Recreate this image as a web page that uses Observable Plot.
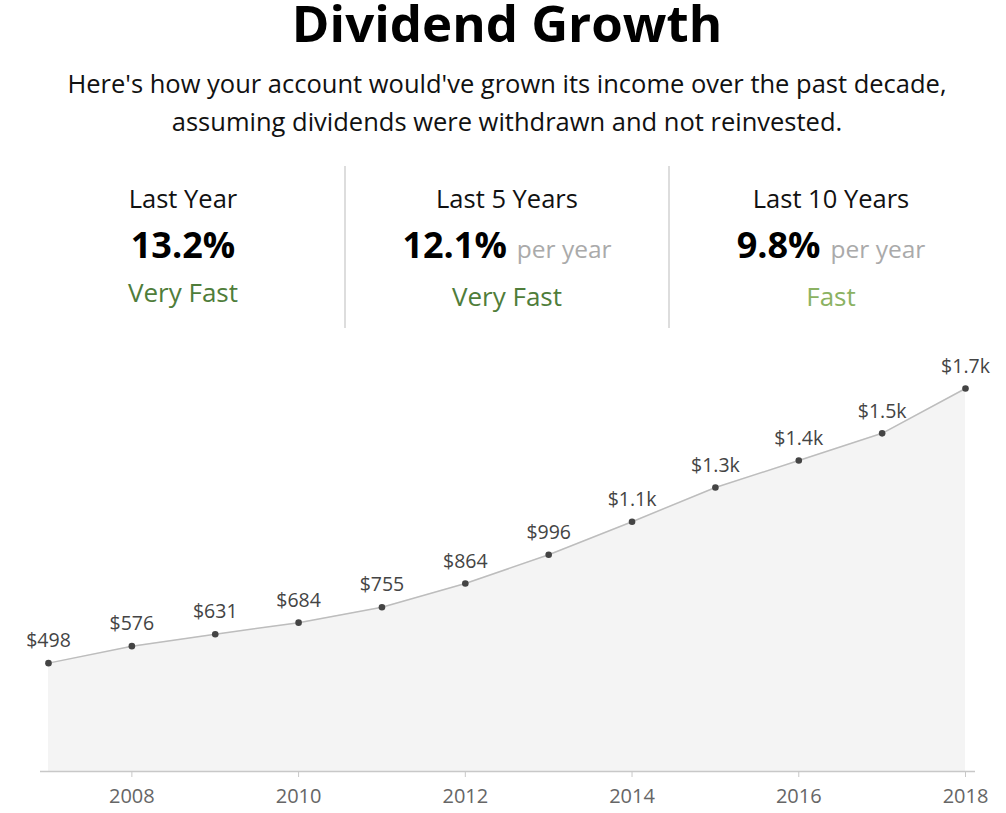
<!DOCTYPE html>
<html>
<head>
<meta charset="utf-8">
<script src="https://cdn.jsdelivr.net/npm/d3@7"></script>
<script src="https://cdn.jsdelivr.net/npm/@observablehq/plot@0.6"></script>
<style>
  html, body { margin: 0; padding: 0; background: #fff; }
  body { width: 1006px; height: 813px; position: relative; overflow: hidden; font-family: "Open Sans", sans-serif; color: #111; }
  .abs { position: absolute; white-space: nowrap; text-align: center; }
  #title { left: 0; width: 1014px; top: 0px; height: 45px; font-size: 51px; line-height: 45px; font-weight: 700; color: #000; }
  #subtitle { left: 0; width: 1014px; top: 64px; font-size: 25.5px; line-height: 38px; color: #111; }
  .col { position: absolute; top: 0; width: 324px; height: 813px; }
  .period { position: absolute; left: 0; width: 100%; text-align: center; top: 180.5px; font-size: 25.5px; line-height: normal; color: #111; }
  .value { position: absolute; left: 0; width: 100%; text-align: center; top: 220px; font-size: 36px; line-height: normal; font-weight: 700; color: #000; }
  .value .suffix { font-size: 24.5px; font-weight: 400; color: #aaa; margin-left: 10px; }
  .rating { position: absolute; left: 0; width: 100%; text-align: center; top: 274px; font-size: 26px; line-height: normal; }
  .divider { position: absolute; top: 166px; width: 2px; height: 162px; background: #ddd; }
  #chart { position: absolute; left: 0; top: 340px; }
</style>
</head>
<body>
<div id="title" class="abs"></div>
<div id="subtitle" class="abs"></div>
<div id="stats"></div>
<div id="chart"></div>
<script>
// ---- data ----
const titleText = "Dividend Growth";
const subtitleLines = [
  "Here's how your account would've grown its income over the past decade,",
  "assuming dividends were withdrawn and not reinvested."
];
const periods = ["Last Year", "Last 5 Years", "Last 10 Years"];
const rates = ["13.2%", "12.1%", "9.8%"];
const suffixes = ["", "per year", "per year"];
const ratings = ["Very Fast", "Very Fast", "Fast"];
const ratingColors = ["#4f7d3a", "#4f7d3a", "#8bb262"];

const years = [2007, 2008, 2009, 2010, 2011, 2012, 2013, 2014, 2015, 2016, 2017, 2018];
const dividends = [498, 576, 631, 684, 755, 864, 996, 1148, 1305, 1429, 1554, 1760];
const valueLabels = ["$498", "$576", "$631", "$684", "$755", "$864", "$996", "$1.1k", "$1.3k", "$1.4k", "$1.5k", "$1.7k"];
const tickYears = [2008, 2010, 2012, 2014, 2016, 2018];

// ---- header ----
document.getElementById("title").textContent = titleText;
const sub = document.getElementById("subtitle");
subtitleLines.forEach((s, i) => {
  if (i > 0) sub.appendChild(document.createElement("br"));
  sub.appendChild(document.createTextNode(s));
});

const stats = document.getElementById("stats");
periods.forEach((p, i) => {
  const col = document.createElement("div");
  col.className = "col";
  col.style.left = (21 + i * 324) + "px";
  const pe = document.createElement("div"); pe.className = "period"; pe.textContent = p;
  const va = document.createElement("div"); va.className = "value"; va.textContent = rates[i];
  if (suffixes[i]) { const s = document.createElement("span"); s.className = "suffix"; s.textContent = suffixes[i]; va.appendChild(s); }
  const ra = document.createElement("div"); ra.className = "rating"; ra.textContent = ratings[i];
  ra.style.color = ratingColors[i];
  if (suffixes[i]) ra.style.top = "278px";
  col.append(pe, va, ra);
  stats.appendChild(col);
  if (i > 0) {
    const d = document.createElement("div"); d.className = "divider";
    d.style.left = (21 + i * 324 - 1) + "px";
    stats.appendChild(d);
  }
});

// ---- chart ----
const data = years.map((y, i) => ({year: y, value: dividends[i], label: valueLabels[i]}));

const chart = Plot.plot({
  width: 1006,
  height: 473,
  marginLeft: 48,
  marginRight: 41,
  marginTop: 48,
  marginBottom: 42,
  style: {fontFamily: "Open Sans, sans-serif", fontSize: "19px", background: "transparent", overflow: "visible"},
  x: {domain: [2007, 2018], label: null},
  y: {domain: [0, 1760], axis: null},
  marks: [
    Plot.areaY(data, {x: "year", y: "value", fill: "#f4f4f4"}),
    Plot.ruleY([0], {stroke: "#c8c8c8", strokeWidth: 1.5, insetLeft: -8, insetRight: -10}),
    Plot.lineY(data, {x: "year", y: "value", stroke: "#bdbdbd", strokeWidth: 1.5}),
    Plot.dot(data, {x: "year", y: "value", r: 3.3, fill: "#444", stroke: "none"}),
    Plot.text(data, {x: "year", y: "value", text: "label", dy: -22, fill: "#444", fontSize: 19.5}),
    Plot.axisX({ticks: tickYears, tickFormat: d => String(d), tickSize: 6, tickPadding: 11, stroke: "#c8c8c8", fill: "#666", fontSize: 20, label: null})
  ]
});
document.getElementById("chart").appendChild(chart);
</script>
</body>
</html>
